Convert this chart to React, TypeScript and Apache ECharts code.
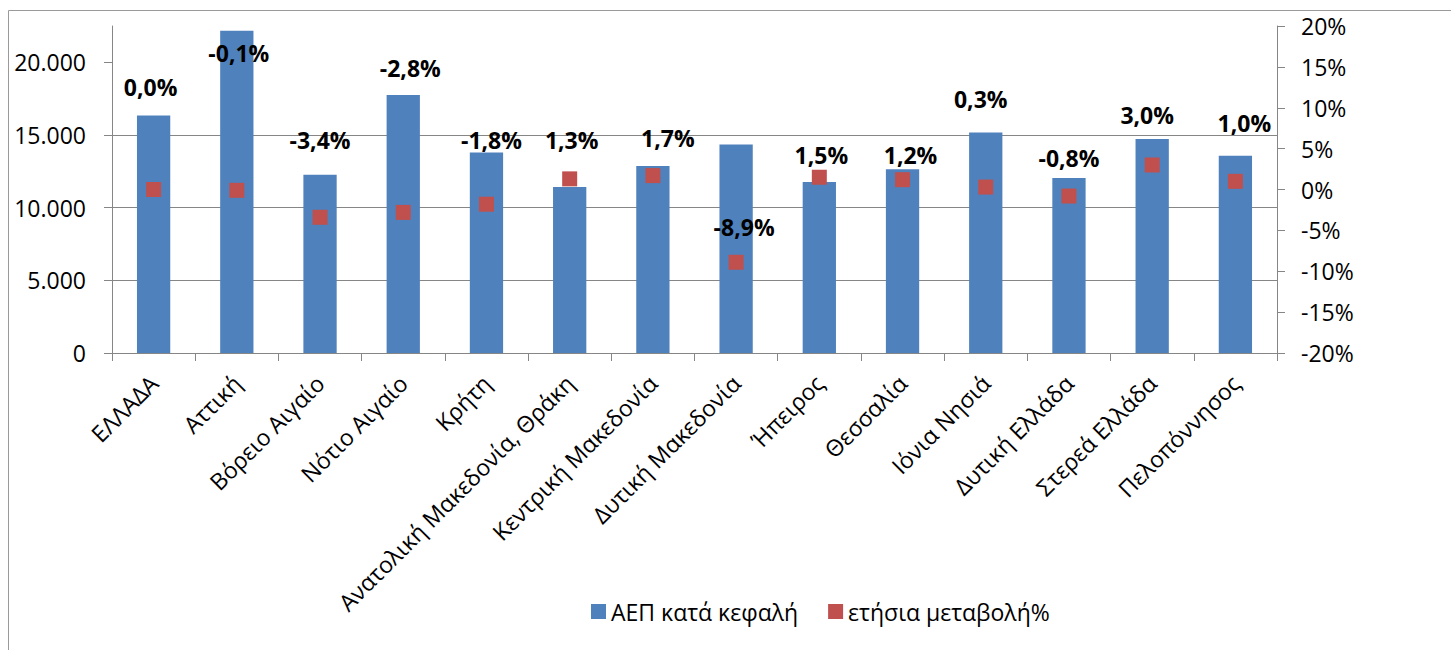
import React, { useEffect, useRef } from "react";
import * as echarts from "echarts";

const categories = [
  "ΕΛΛΑΔΑ",
  "Αττική",
  "Βόρειο Αιγαίο",
  "Νότιο Αιγαίο",
  "Κρήτη",
  "Ανατολική Μακεδονία, Θράκη",
  "Κεντρική Μακεδονία",
  "Δυτική Μακεδονία",
  "Ήπειρος",
  "Θεσσαλία",
  "Ιόνια Νησιά",
  "Δυτική Ελλάδα",
  "Στερεά Ελλάδα",
  "Πελοπόννησος",
];
const gdpPerCapita = [16350, 22170, 12260, 17750, 13800, 11420, 12860, 14350, 11760, 12650, 15180, 12040, 14720, 13570];
const annualChange = [0.0, -0.1, -3.4, -2.8, -1.8, 1.3, 1.7, -8.9, 1.5, 1.2, 0.3, -0.8, 3.0, 1.0];
const seriesNames = ["ΑΕΠ κατά κεφαλή", "ετήσια μεταβολή%"];

// layout only: manual placement of each data label relative to its marker (px)
const labelOffsets = [
  [-3, -103], [2, -137], [0, -77], [7, -144], [5, -64], [2, -39], [15, -38],
  [8, -35], [2, -22], [8, -25], [-5, -88], [0, -38], [-5, -50], [9, -58],
];

const FONT = "'Open Sans', 'Noto Sans', sans-serif";
const GRAY = "#868686";

const fmtThousands = (v: number) =>
  String(v).replace(/\B(?=(\d{3})+(?!\d))/g, ".");
const fmtPct = (v: number) => v.toFixed(1).replace(".", ",") + "%";

export default function App() {
  const ref = useRef<HTMLDivElement>(null);
  useEffect(() => {
    if (!ref.current) return;
    const chart = echarts.init(ref.current, null, { renderer: "svg" });
    chart.setOption({
      animation: false,
      backgroundColor: "#fff",
      graphic: [
        {
          type: "rect",
          shape: { x: 8.5, y: 10.5, width: 1500, height: 700 },
          style: { fill: "none", stroke: "#9a9a9a", lineWidth: 1 },
          silent: true,
        },
      ],
      grid: { left: 112, right: 174, top: 26, bottom: 297, containLabel: false },
      legend: {
        left: 586,
        top: 595,
        icon: "rect",
        itemWidth: 15,
        itemHeight: 15,
        itemGap: 30,
        textStyle: { fontFamily: FONT, fontSize: 23, color: "#000" },
        data: seriesNames,
      },
      xAxis: {
        type: "category",
        data: categories,
        boundaryGap: true,
        axisLine: { lineStyle: { color: GRAY, width: 1 } },
        axisTick: { show: true, length: 8, lineStyle: { color: GRAY } },
        axisLabel: {
          rotate: 45,
          interval: 0,
          margin: 26,
          fontFamily: FONT,
          fontSize: 23,
          color: "#000",
        },
      },
      yAxis: [
        {
          type: "value",
          min: 0,
          max: 22500,
          interval: 5000,
          position: "left",
          axisLine: { show: true, lineStyle: { color: GRAY, width: 1 } },
          axisTick: { show: true, length: 8, lineStyle: { color: GRAY }, customValues: [0, 5000, 10000, 15000, 20000] },
          splitLine: { show: true, showMaxLine: false, lineStyle: { color: GRAY, width: 1 } },
          axisLabel: {
            margin: 26,
            fontFamily: FONT,
            fontSize: 23,
            color: "#000",
            formatter: (v: number) => (v > 20000 ? "" : fmtThousands(v)),
          },
        },
        {
          type: "value",
          min: -20,
          max: 20,
          interval: 5,
          position: "right",
          axisLine: { show: true, lineStyle: { color: GRAY, width: 1 } },
          axisTick: { show: true, length: 8, lineStyle: { color: GRAY } },
          splitLine: { show: false },
          axisLabel: {
            margin: 24,
            fontFamily: FONT,
            fontSize: 23,
            color: "#000",
            formatter: (v: number) => v + "%",
          },
        },
      ],
      series: [
        {
          name: seriesNames[0],
          type: "bar",
          yAxisIndex: 0,
          barWidth: "40%",
          itemStyle: { color: "#4F81BD" },
          data: gdpPerCapita,
        },
        {
          name: seriesNames[1],
          type: "scatter",
          yAxisIndex: 1,
          symbol: "rect",
          symbolSize: 15,
          itemStyle: { color: "#C0504D", opacity: 1 },
          data: annualChange.map((v, i) => ({
            value: v,
            label: { offset: labelOffsets[i] },
          })),
          label: {
            show: true,
            position: "inside",
            fontFamily: FONT,
            fontSize: 23,
            fontWeight: "bold",
            color: "#000",
            textBorderWidth: 0,
            opacity: 1,
            formatter: (p: any) => fmtPct(p.value),
          },
        },
      ],
    });
    return () => chart.dispose();
  }, []);
  return (
    <div
      ref={ref}
      style={{ position: "absolute", left: 0, top: 0, width: 1451, height: 650 }}
    />
  );
}
